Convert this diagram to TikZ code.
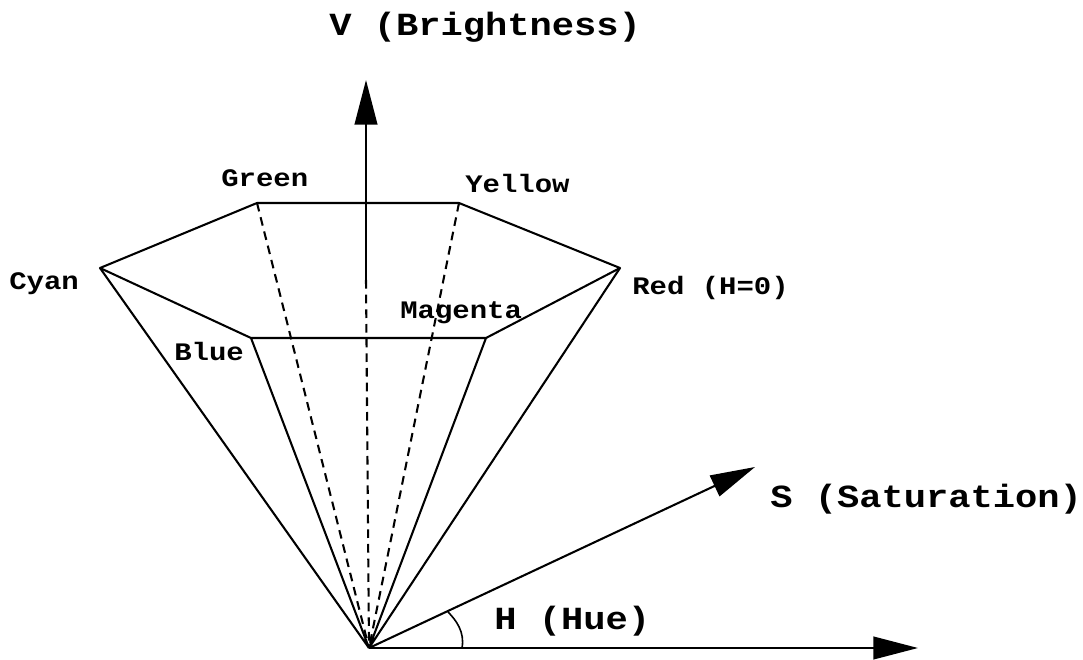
\documentclass[tikz,border=0pt]{standalone}
\usepackage{fontspec}
\setmonofont{Liberation Mono}[FakeStretch=1.15]
\usetikzlibrary{arrows.meta}
\tikzset{
 edge/.style={line width=1.55pt,line join=round},
 hidden/.style={line width=1.55pt,dash pattern=on 6.5pt off 4.5pt},
 axis/.style={edge,-{Triangle[length=33.5pt,width=17pt]}},
 big/.style={font=\ttfamily\bfseries\fontsize{24.2}{25}\selectfont,inner sep=0,anchor=base west},
 small/.style={font=\ttfamily\bfseries\fontsize{18.9}{19}\selectfont,inner sep=0,anchor=base west}
}
\begin{document}
\begin{tikzpicture}[x=0.75pt,y=-0.75pt]
\useasboundingbox (0,0) rectangle (1083,660);
\coordinate (O) at (369,648);
\coordinate (R) at (620,268);
\coordinate (Y) at (459,203);
\coordinate (G) at (257,203);
\coordinate (C) at (100,268);
\coordinate (B) at (251,338);
\coordinate (M) at (486,338);
\coordinate (Vtop) at (366,80);
\coordinate (Vbase) at (366,280);
\coordinate (Stip) at (755,467);
\coordinate (Htip) at (918,648);
\coordinate (A1) at (462,648);
\coordinate (A2) at (448,612);
\draw[edge] (G)--(Y)--(R)--(M)--(B)--(C)--cycle;
\draw[edge] (C)--(O) (B)--(O) (M)--(O) (R)--(O);
\draw[hidden] (G)--(O) (Y)--(O) (Vbase)--(O);
\draw[axis] (Vbase)--(Vtop);
\draw[axis] (O)--(Stip);
\draw[axis] (O)--(Htip);
\draw[edge,line width=1.2pt] (A2) .. controls (456,620) and (465,632) .. (A1);
\node[big] (tv) at (329,36) {V (Brightness)};
\node[big] (ts) at (770,507) {S (Saturation)};
\node[big] (th) at (494,629) {H (Hue)};
\node[small] (tg) at (221,186) {Green};
\node[small] (ty) at (465,193) {Yellow};
\node[small] (tc) at (9,289) {Cyan};
\node[small] (tb) at (174,360) {Blue};
\node[small] (tm) at (400,318) {Magenta};
\node[small] (tr) at (632,294) {Red (H=0)};
\end{tikzpicture}
\end{document}
